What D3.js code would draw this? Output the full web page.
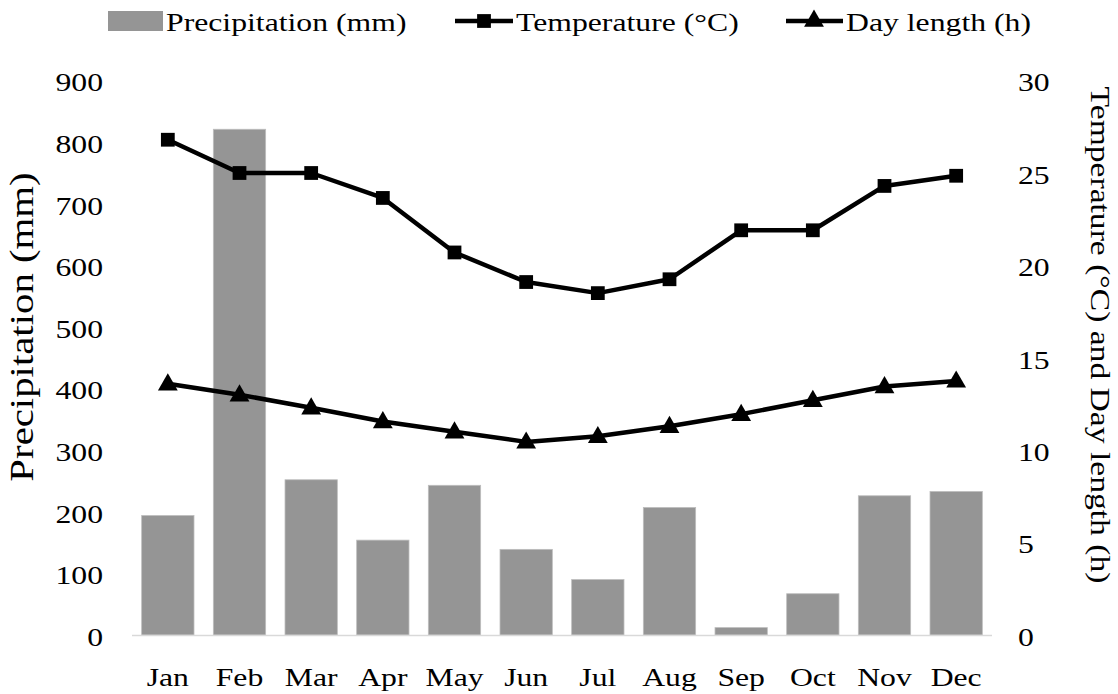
<!DOCTYPE html>
<html><head><meta charset="utf-8">
<script src="https://cdn.jsdelivr.net/npm/d3@7"></script>
<style>body{margin:0;background:#fff}svg{display:block}text{font-family:"Liberation Serif","Times New Roman",serif;fill:#000}</style>
</head><body><svg id="c" width="1118" height="694"></svg>
<script>
const months = ["Jan","Feb","Mar","Apr","May","Jun","Jul","Aug","Sep","Oct","Nov","Dec"];
const precipitation = [194, 821, 252, 154, 243, 139, 90, 207, 12, 67, 226, 233];
const temperature = [26.8, 25.0, 25.0, 23.65, 20.7, 19.1, 18.5, 19.25, 21.9, 21.9, 24.3, 24.85];
const dayLength = [13.6, 13.0, 12.3, 11.55, 11.0, 10.45, 10.75, 11.3, 11.95, 12.7, 13.45, 13.75];
const leftTicks = [0,100,200,300,400,500,600,700,800,900];
const rightTicks = [0,5,10,15,20,25,30];

const svg = d3.select("#c");
const L = 132, R = 992, T = 80.6, B = 635;
const FS = 26, SX = 1.22;
const x = d3.scaleBand().domain(months).range([L, R]).paddingInner(0.27).paddingOuter(0.135);
const yL = d3.scaleLinear().domain([0, 900]).range([B, T]);
const yR = d3.scaleLinear().domain([0, 30]).range([B, T]);

// bars
svg.append("g").selectAll("rect").data(precipitation).join("rect")
  .attr("x", (d,i) => x(months[i])).attr("width", x.bandwidth())
  .attr("y", d => yL(d)).attr("height", d => B - yL(d))
  .attr("fill", "#959595").attr("stroke", "#bdbdbd").attr("stroke-width", 0.8);

// x axis line
svg.append("line").attr("x1", L).attr("x2", R).attr("y1", B + 0.5).attr("y2", B + 0.5)
  .attr("stroke", "#d9d9d9").attr("stroke-width", 1.5);

function styleTicks(g) {
  g.select(".domain").remove();
  g.selectAll("text").style("font-size", FS + "px").style("font-family", "Liberation Serif")
    .attr("transform", `scale(${SX},1)`);
}
// axes
const gl = svg.append("g").attr("transform", `translate(${L - 29},2)`)
  .call(d3.axisLeft(yL).tickValues(leftTicks).tickSize(0).tickPadding(0));
styleTicks(gl);
const gr = svg.append("g").attr("transform", `translate(${R + 26},2)`)
  .call(d3.axisRight(yR).tickValues(rightTicks).tickSize(0).tickPadding(0));
styleTicks(gr);
const gx = svg.append("g").attr("transform", `translate(0,${B + 33})`)
  .call(d3.axisBottom(x).tickSize(0).tickPadding(0));
styleTicks(gx);

// axis titles
svg.append("text").attr("transform", `translate(33,327) rotate(-90) scale(1.2,1)`)
  .attr("text-anchor", "middle").style("font-size", "34px").text("Precipitation (mm)");
svg.append("text").attr("transform", `translate(1091,335) rotate(90) scale(1.2,1)`)
  .attr("text-anchor", "middle").style("font-size", "28px").text("Temperature (°C) and Day length (h)");

// lines
const cx = i => x(months[i]) + x.bandwidth() / 2;
const line = d3.line().x((d,i) => cx(i)).y(d => yR(d));
[temperature, dayLength].forEach((s, k) => {
  svg.append("path").datum(s).attr("d", line).attr("fill", "none")
    .attr("stroke", "#000").attr("stroke-width", 4.5).attr("stroke-linejoin", "round");
  const sym = d3.symbol().type(k === 0 ? d3.symbolSquare : d3.symbolTriangle).size(k === 0 ? 190 : 170);
  svg.append("g").selectAll("path").data(s).join("path")
    .attr("transform", (d,i) => `translate(${cx(i)},${yR(d) + (k === 1 ? 1 : 0)})`)
    .attr("d", sym).attr("fill", "#000");
});

// legend
const lg = svg.append("g");
const legText = (x0, t) => lg.append("text").attr("transform", `translate(${x0},31) scale(${SX},1)`)
  .style("font-size", FS + "px").text(t);
lg.append("rect").attr("x", 108).attr("y", 11).attr("width", 55).attr("height", 20).attr("fill", "#959595");
legText(166, "Precipitation (mm)");
lg.append("line").attr("x1", 455).attr("x2", 513).attr("y1", 21).attr("y2", 21).attr("stroke", "#000").attr("stroke-width", 4.5);
lg.append("path").attr("transform", "translate(484,21)").attr("d", d3.symbol().type(d3.symbolSquare).size(190)()).attr("fill", "#000");
legText(516, "Temperature (°C)");
lg.append("line").attr("x1", 786).attr("x2", 843).attr("y1", 21).attr("y2", 21).attr("stroke", "#000").attr("stroke-width", 4.5);
lg.append("path").attr("transform", "translate(814,21)").attr("d", d3.symbol().type(d3.symbolTriangle).size(170)()).attr("fill", "#000");
legText(846, "Day length (h)");
</script></body></html>
